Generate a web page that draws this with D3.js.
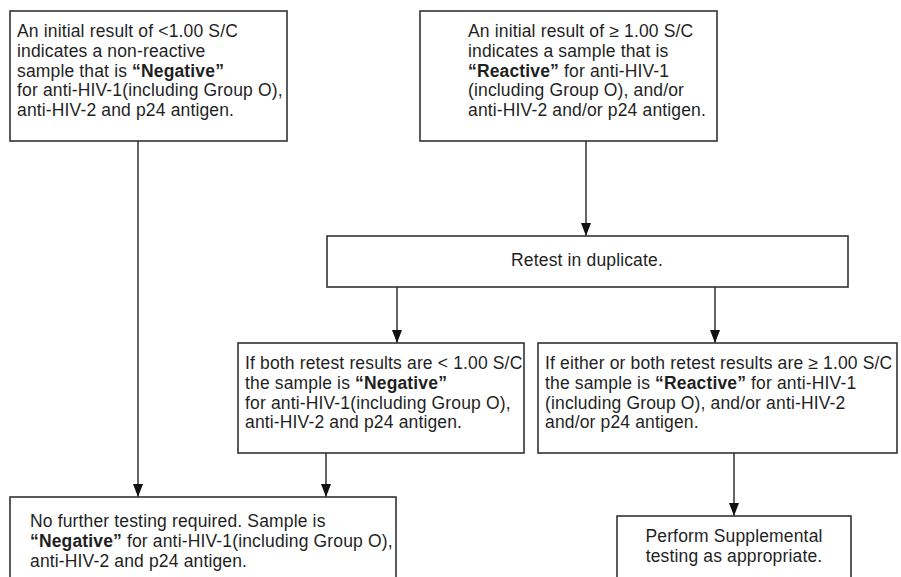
<!DOCTYPE html>
<html lang="en">
<head>
<meta charset="UTF-8">
<title>Anti-HIV retest flowchart</title>
<script src="https://d3js.org/d3.v7.min.js"></script>
<style>
  body { margin: 0; background: #fff; }
  svg text { font-family: "Liberation Sans", Arial, sans-serif; font-size: 17.5px; letter-spacing: 0.15px; fill: #1f1f1f; }
</style>
</head>
<body>
<div id="chart"></div>
<script>
// box texts (bold parts wrapped in *...*)
var initialNegative = [
  "An initial result of <1.00 S/C",
  "indicates a non-reactive",
  "sample that is *“Negative”*",
  "for anti-HIV-1(including Group O),",
  "anti-HIV-2 and p24 antigen."
];
var initialReactive = [
  "An initial result of ≥ 1.00 S/C",
  "indicates a sample that is",
  "*“Reactive”* for anti-HIV-1",
  "(including Group O), and/or",
  "anti-HIV-2 and/or p24 antigen."
];
var retest = ["Retest in duplicate."];
var retestNegative = [
  "If both retest results are < 1.00 S/C",
  "the sample is *“Negative”*",
  "for anti-HIV-1(including Group O),",
  "anti-HIV-2 and p24 antigen."
];
var retestReactive = [
  "If either or both retest results are ≥ 1.00 S/C",
  "the sample is *“Reactive”* for anti-HIV-1",
  "(including Group O), and/or anti-HIV-2",
  "and/or p24 antigen."
];
var finalNegative = [
  "No further testing required. Sample is",
  "*“Negative”* for anti-HIV-1(including Group O),",
  "anti-HIV-2 and p24 antigen."
];
var supplemental = ["Perform Supplemental", "testing as appropriate."];

var nodeIds = ["initNeg", "initReac", "retest", "reNeg", "reReac", "finNeg", "supp"];
var nodeTexts = [initialNegative, initialReactive, retest, retestNegative, retestReactive, finalNegative, supplemental];

// arrows: from node, to node
var edgeFrom = ["initNeg", "initReac", "retest", "retest", "reNeg", "reReac"];
var edgeTo   = ["finNeg",  "retest",   "reNeg",  "reReac", "finNeg", "supp"];

// layout (pixels)
var width = 901, height = 577;
var layout = {
  initNeg:  {x0: 10,  x1: 287, y0: 11,  y1: 141, tx: 17,  ty: 37,  align: "start"},
  initReac: {x0: 420, x1: 717, y0: 11,  y1: 141, tx: 468, ty: 37,  align: "start"},
  retest:   {x0: 327, x1: 848, y0: 236, y1: 287, tx: 587, ty: 266, align: "middle"},
  reNeg:    {x0: 238, x1: 524, y0: 343, y1: 453, tx: 245, ty: 369, align: "start"},
  reReac:   {x0: 538, x1: 897, y0: 343, y1: 453, tx: 545, ty: 369, align: "start"},
  finNeg:   {x0: 10,  x1: 396, y0: 497, y1: 600, tx: 30,  ty: 527, align: "start"},
  supp:     {x0: 617, x1: 851, y0: 516, y1: 600, tx: 734, ty: 542, align: "middle"}
};
// arrow x positions
var arrowX = [138, 586, 397, 715, 326, 734];
var lineH = 19.8;

var svg = d3.select("#chart").append("svg")
  .attr("width", width)
  .attr("height", height);

svg.append("defs").append("marker")
  .attr("id", "head")
  .attr("viewBox", "0 0 13 10")
  .attr("refX", 13).attr("refY", 5)
  .attr("markerWidth", 13).attr("markerHeight", 10)
  .attr("markerUnits", "userSpaceOnUse")
  .attr("orient", "auto")
  .append("path")
  .attr("d", "M0,0 L13,5 L0,10 Z")
  .style("fill", "#111");

// arrows
edgeFrom.forEach(function(f, i) {
  var a = layout[f], b = layout[edgeTo[i]];
  svg.append("line")
    .attr("x1", arrowX[i]).attr("x2", arrowX[i])
    .attr("y1", a.y1).attr("y2", b.y0)
    .attr("stroke", "#222")
    .attr("stroke-width", 1.4)
    .attr("marker-end", "url(#head)");
});

// boxes
nodeIds.forEach(function(id, i) {
  var L = layout[id];
  var g = svg.append("g");
  g.append("rect")
    .attr("x", L.x0).attr("y", L.y0)
    .attr("width", L.x1 - L.x0).attr("height", L.y1 - L.y0)
    .style("fill", "#fff")
    .style("stroke", "#333")
    .style("stroke-width", 1.6);

  var txt = g.append("text").attr("text-anchor", L.align);
  nodeTexts[i].forEach(function(line, j) {
    var t = txt.append("tspan")
      .attr("x", L.tx)
      .attr("y", L.ty + j * lineH);
    line.split("*").forEach(function(part, k) {
      if (!part) return;
      t.append("tspan")
        .style("font-weight", k % 2 ? "bold" : "normal")
        .text(part);
    });
  });
});
</script>
</body>
</html>
